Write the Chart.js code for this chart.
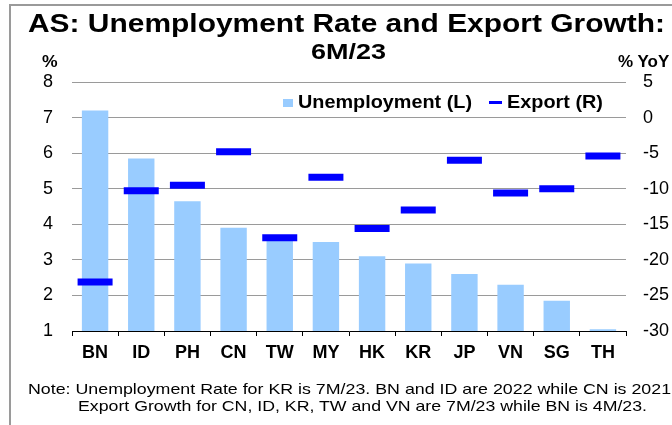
<!DOCTYPE html>
<html>
<head>
<meta charset="utf-8">
<script src="https://cdn.jsdelivr.net/npm/chart.js@4.4.0/dist/chart.umd.min.js"></script>
<style>
  html, body { margin: 0; padding: 0; background: #fff; overflow: hidden; }
  body { width: 672px; height: 425px; position: relative; font-family: "Liberation Sans", Arial, sans-serif; }
  #frame { position: absolute; left: 9px; top: 4px; width: 800px; height: 600px; border: 2px solid #9a9a9a; box-sizing: border-box; }
  #wrap { position: absolute; left: 0; top: 0; width: 672px; height: 425px; }
  .t { position: absolute; white-space: nowrap; color: #000; transform-origin: 0 0; }
  .b { font-weight: bold; }
</style>
</head>
<body>
<div id="frame"></div>
<div id="wrap"><canvas id="c"></canvas></div>

<div class="t b fit" data-w="637" style="left:28px; top:11px; font-size:25px; line-height:25px;">AS: Unemployment Rate and Export Growth:</div>
<div class="t b fit" data-w="75" style="left:311px; top:41px; font-size:22px; line-height:22px;">6M/23</div>
<div class="t b fit" data-w="15.6" style="left:42px; top:53px; font-size:17px; line-height:17px;">%</div>
<div class="t b" style="left:618px; top:53px; font-size:17px; line-height:17px;">% YoY</div>

<div style="position:absolute; left:283px; top:99px; width:10px; height:8px; background:#99CCFF;"></div>
<div class="t b fit" data-w="174" style="left:298px; top:92.6px; font-size:18.5px; line-height:18.5px;">Unemployment (L)</div>
<div style="position:absolute; left:489px; top:101px; width:13px; height:3px; background:#0000FF;"></div>
<div class="t b fit" data-w="96" style="left:507px; top:92.6px; font-size:18.5px; line-height:18.5px;">Export (R)</div>

<div class="t fit" data-w="648" style="left:28px; top:380.6px; font-size:15px; line-height:15px;">Note: Unemployment Rate for KR is 7M/23. BN and ID are 2022 while CN is 2021.</div>
<div class="t fit" data-w="569" style="left:78px; top:398.3px; font-size:15px; line-height:15px;">Export Growth for CN, ID, KR, TW and VN are 7M/23 while BN is 4M/23.</div>

<script>
const categories = ['BN', 'ID', 'PH', 'CN', 'TW', 'MY', 'HK', 'KR', 'JP', 'VN', 'SG', 'TH'];
const unemployment = [7.2, 5.85, 4.65, 3.9, 3.6, 3.5, 3.1, 2.9, 2.6, 2.3, 1.85, 1.05];
const exportGrowth = [-23.1, -10.3, -9.5, -4.8, -16.9, -8.4, -15.6, -13.0, -6.0, -10.6, -10.0, -5.4];
const leftTicks = [1, 2, 3, 4, 5, 6, 7, 8];
const rightTicks = [-30, -25, -20, -15, -10, -5, 0, 5];

// fit HTML text widths
document.querySelectorAll('.fit').forEach(el => {
  const w = el.getBoundingClientRect().width;
  const s = parseFloat(el.dataset.w) / w;
  el.style.transform = 'scaleX(' + s + ')';
});

const FONT = '"Liberation Sans", Arial, sans-serif';

new Chart(document.getElementById('c'), {
  data: {
    labels: categories,
    datasets: [
      {
        type: 'bar',
        label: 'Unemployment (L)',
        data: unemployment,
        yAxisID: 'y',
        backgroundColor: '#99CCFF',
        borderWidth: 0,
        barPercentage: 0.572,
        categoryPercentage: 1,
        order: 2
      },
      {
        type: 'line',
        label: 'Export (R)',
        data: exportGrowth,
        yAxisID: 'y1',
        showLine: false,
        pointStyle: 'line',
        pointRadius: 17.5,
        pointHoverRadius: 17.5,
        pointBorderWidth: 7,
        pointHoverBorderWidth: 7,
        pointBorderColor: '#0000FF',
        pointBackgroundColor: '#0000FF',
        order: 1
      }
    ]
  },
  options: {
    responsive: true,
    maintainAspectRatio: false,
    animation: false,
    events: [],
    layout: { padding: { top: 82, left: 0, right: 0, bottom: 0 } },
    plugins: { legend: { display: false }, tooltip: { enabled: false } },
    scales: {
      x: {
        type: 'category',
        offset: true,
        afterFit: s => { s.height = 94; },
        grid: { display: true, drawOnChartArea: false, drawTicks: true, tickLength: 5, offset: true, color: '#000' },
        border: { display: true, color: '#000', width: 1 },
        ticks: { color: '#000', padding: 6, font: { family: FONT, size: 18, weight: 'bold' }, maxRotation: 0, autoSkip: false }
      },
      y: {
        position: 'left',
        min: 1, max: 8,
        afterFit: s => { s.width = 72; },
        afterBuildTicks: s => { s.ticks = leftTicks.map(v => ({ value: v })); },
        grid: { drawTicks: false, color: ctx => (ctx.tick && ctx.tick.value === 1) ? 'rgba(0,0,0,0)' : '#9a9a9a', lineWidth: 1 },
        border: { display: false },
        ticks: { color: '#000', padding: 19, font: { family: FONT, size: 18 } }
      },
      y1: {
        position: 'right',
        min: -30, max: 5,
        afterFit: s => { s.width = 46; },
        afterBuildTicks: s => { s.ticks = rightTicks.map(v => ({ value: v })); },
        grid: { display: false, drawOnChartArea: false, drawTicks: false },
        border: { display: false },
        ticks: { color: '#000', padding: 17, font: { family: FONT, size: 18 } }
      }
    }
  }
});
</script>
</body>
</html>
